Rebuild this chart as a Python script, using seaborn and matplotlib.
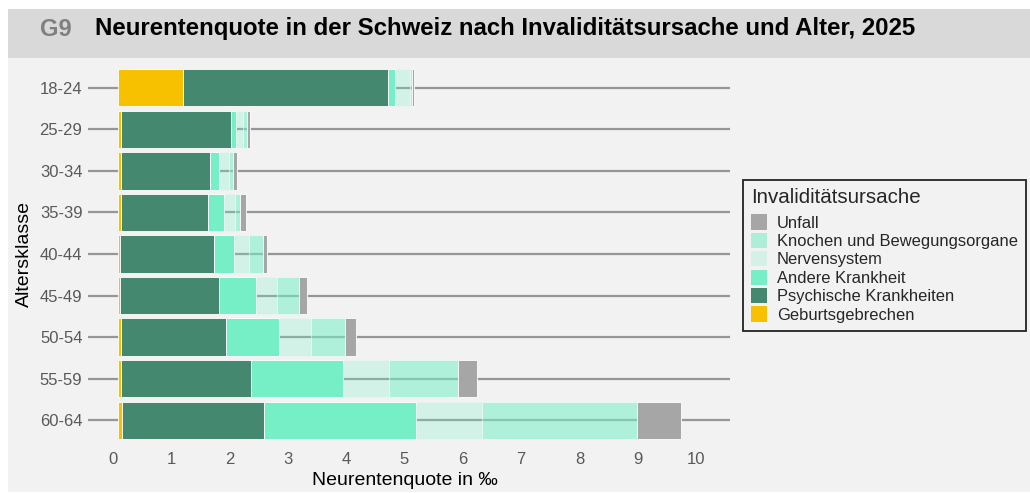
import numpy as np
import pandas as pd
import matplotlib
matplotlib.use("Agg")
import matplotlib.pyplot as plt
import matplotlib.transforms as mtransforms
from matplotlib.patches import Rectangle, Patch
import seaborn as sns

# ---------------- data ----------------
age_classes = ["18-24", "25-29", "30-34", "35-39", "40-44", "45-49", "50-54", "55-59", "60-64"]
geburtsgebrechen = [1.11, 0.06, 0.05, 0.05, 0.03, 0.03, 0.05, 0.06, 0.07]
psychische = [3.52, 1.88, 1.53, 1.50, 1.61, 1.70, 1.80, 2.22, 2.44]
andere = [0.12, 0.08, 0.16, 0.27, 0.35, 0.64, 0.91, 1.58, 2.60]
nerven = [0.25, 0.13, 0.16, 0.19, 0.26, 0.36, 0.55, 0.78, 1.13]
knochen = [0.04, 0.06, 0.08, 0.09, 0.23, 0.38, 0.58, 1.19, 2.67]
unfall = [0.04, 0.05, 0.06, 0.09, 0.08, 0.13, 0.20, 0.32, 0.74]
x_ticks = list(range(0, 11))

series_names = ["Geburtsgebrechen", "Psychische Krankheiten", "Andere Krankheit",
                "Nervensystem", "Knochen und Bewegungsorgane", "Unfall"]
series_values = [geburtsgebrechen, psychische, andere, nerven, knochen, unfall]
series_colors = ["#f8c100", "#44896f", "#76efc7", "#76efc7", "#76efc7", "#a6a6a6"]
series_alpha = [1.0, 1.0, 1.0, 0.25, 0.55, 1.0]
legend_colors = ["#f8c100", "#44896f", "#76efc7", "#d5f0e6", "#aeeed8", "#a6a6a6"]

# ---------------- style ----------------
sns.set_style("white")
plt.rcParams["font.family"] = ["Liberation Sans", "DejaVu Sans"]

W, H = 1030, 493
fig = plt.figure(figsize=(W / 100, H / 100), dpi=100)
fig.patch.set_facecolor("white")

# background bands
fig.patches.append(Rectangle((8 / W, 1 - 58 / H), 1, 49 / H, transform=fig.transFigure,
                             facecolor="#d9d9d9", edgecolor="none", zorder=-10))
fig.patches.append(Rectangle((8 / W, 1 / H), 1, (492 - 58) / H, transform=fig.transFigure,
                             facecolor="#f2f2f2", edgecolor="none", zorder=-10))

fig.text(40 / W, 1 - 29 / H, "G9", color="#808080", fontsize=17, fontweight="bold", va="center")
fig.text(95 / W, 1 - 29 / H, "Neurentenquote in der Schweiz nach Invaliditätsursache und Alter, 2025",
         color="black", fontsize=17.3, fontweight="bold", va="center")

ax = fig.add_axes([88 / W, 1 - 441 / H, 642 / W, 374 / H])
ax.set_facecolor("none")
ax.set_zorder(5)

cum = np.zeros(len(age_classes))
for name, vals, col, a in zip(series_names, series_values, series_colors, series_alpha):
    vals = np.asarray(vals, dtype=float)
    sns.barplot(x=vals, y=age_classes, orient="h", color=col, saturation=1, alpha=a,
                width=0.9, ax=ax, edgecolor=(1, 1, 1, 0.45), linewidth=0.6, zorder=2)
    for p, left in zip(ax.containers[-1], cum):
        p.set_x(left)
    cum = cum + vals

px_per_unit = 58.3
ax.set_xlim(-30 / px_per_unit, 612 / px_per_unit)
ax.set_ylim(len(age_classes) - 0.5, -0.5)
ax.set_xticks(x_ticks)
ax.set_xticklabels([str(t) for t in x_ticks])

ax.set_axisbelow(True)
ax.yaxis.grid(True, color="#969696", linewidth=1.6, zorder=0)
ax.xaxis.grid(False)
for s in ax.spines.values():
    s.set_visible(False)
ax.tick_params(axis="both", length=0, labelsize=12, labelcolor="#595959")
ax.tick_params(axis="y", pad=4)
ax.tick_params(axis="x", pad=8)

offset = mtransforms.ScaledTranslation(-5 / 100, 0, fig.dpi_scale_trans)
for lab in ax.get_xticklabels():
    lab.set_transform(lab.get_transform() + offset)

ax.set_xlabel("Neurentenquote in ‰", fontsize=14, color="black")
ax.set_ylabel("Altersklasse", fontsize=14, color="black")
ax.xaxis.set_label_coords(0.494, -0.083)
ax.yaxis.set_label_coords(-0.085, 0.5)

handles = [Patch(facecolor=c, edgecolor="none") for c in legend_colors[::-1]]
leg = fig.legend(handles, series_names[::-1], title="Invaliditätsursache",
                 loc="upper left", bbox_to_anchor=(743 / W, 1 - 180 / H), borderaxespad=0,
                 frameon=True, fancybox=False, framealpha=1, facecolor="#f2f2f2",
                 edgecolor="#222222", fontsize=11.9, title_fontsize=14.8,
                 handlelength=0.95, handleheight=1.05, handletextpad=0.6,
                 labelspacing=0.13, borderpad=0.5, alignment="left")
leg._legend_box.sep = 5
leg.get_frame().set_linewidth(1.3)
leg.set_zorder(10)

fig.savefig("out.png", dpi=100)
